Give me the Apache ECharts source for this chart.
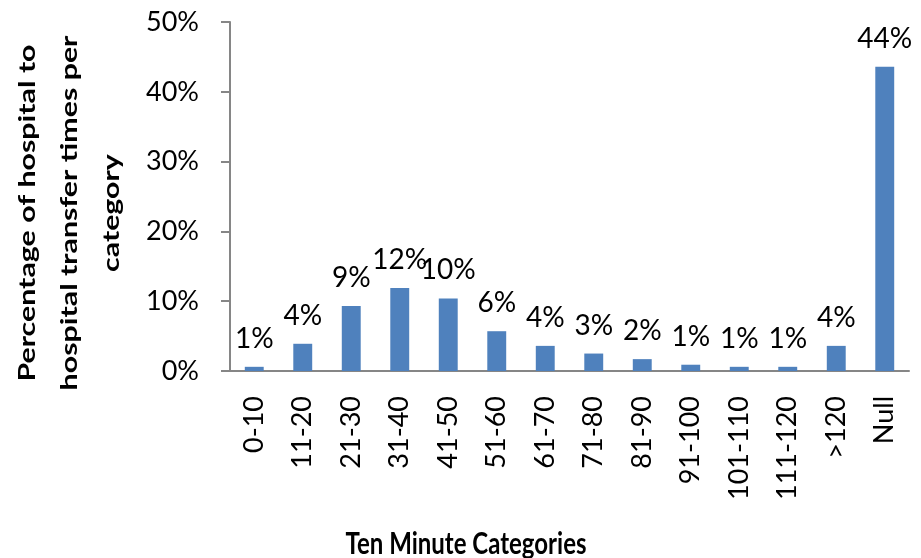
<!DOCTYPE html>
<html>
<head>
<meta charset="utf-8">
<script src="https://cdn.jsdelivr.net/npm/echarts@6/dist/echarts.min.js"></script>
<style>html,body{margin:0;padding:0;background:#fff}#c{width:921px;height:558px}</style>
</head>
<body>
<div id="c"></div>
<script>
const categories = ['0-10','11-20','21-30','31-40','41-50','51-60','61-70','71-80','81-90','91-100','101-110','111-120','>120','Null'];
const values = [0.6, 3.9, 9.3, 11.9, 10.4, 5.7, 3.6, 2.5, 1.7, 0.9, 0.6, 0.6, 3.6, 43.6];
const yTicks = [0, 10, 20, 30, 40, 50];
const yTitle = 'Percentage of hospital to\nhospital transfer times per\ncategory';
const xTitle = 'Ten Minute Categories';

const FONT = 'Lato';
const chart = echarts.init(document.getElementById('c'));
chart.setOption({
  animation: false,
  textStyle: { fontFamily: FONT },
  grid: { left: 230, top: 22, right: 12, bottom: 187, containLabel: false },
  xAxis: {
    type: 'category',
    data: categories,
    axisLine: { lineStyle: { color: '#868686', width: 2 } },
    axisTick: { show: false },
    axisLabel: { rotate: 90, margin: 25, fontSize: 27, color: '#000', fontFamily: FONT, interval: 0 }
  },
  yAxis: {
    type: 'value',
    min: yTicks[0], max: yTicks[yTicks.length - 1], interval: 10,
    axisLine: { show: true, lineStyle: { color: '#868686', width: 2 } },
    axisTick: { show: true, length: 9, lineStyle: { color: '#868686', width: 2 } },
    splitLine: { show: false },
    axisLabel: { formatter: v => v + '%', fontSize: 27, color: '#000', margin: 31, fontFamily: FONT }
  },
  series: [{
    type: 'bar',
    data: values,
    barWidth: '39%',
    itemStyle: { color: '#4F81BD' },
    label: {
      show: true, position: 'top', distance: 14,
      fontSize: 28, color: '#000', fontFamily: FONT,
      formatter: p => Math.round(p.value) + '%'
    }
  }],
  graphic: [
    {
      type: 'text', x: 70, y: 213, rotation: Math.PI / 2, scaleX: 1.38,
      style: { text: yTitle, fontSize: 22, fontWeight: 'bold', fontFamily: FONT, fill: '#000',
               align: 'center', verticalAlign: 'middle', lineHeight: 42 }
    },
    {
      type: 'text', x: 466, y: 544, scaleY: 1.3,
      style: { text: xTitle, fontSize: 24, fontWeight: 'bold', fontFamily: FONT, fill: '#000',
               align: 'center', verticalAlign: 'middle' }
    }
  ]
});
</script>
</body>
</html>
